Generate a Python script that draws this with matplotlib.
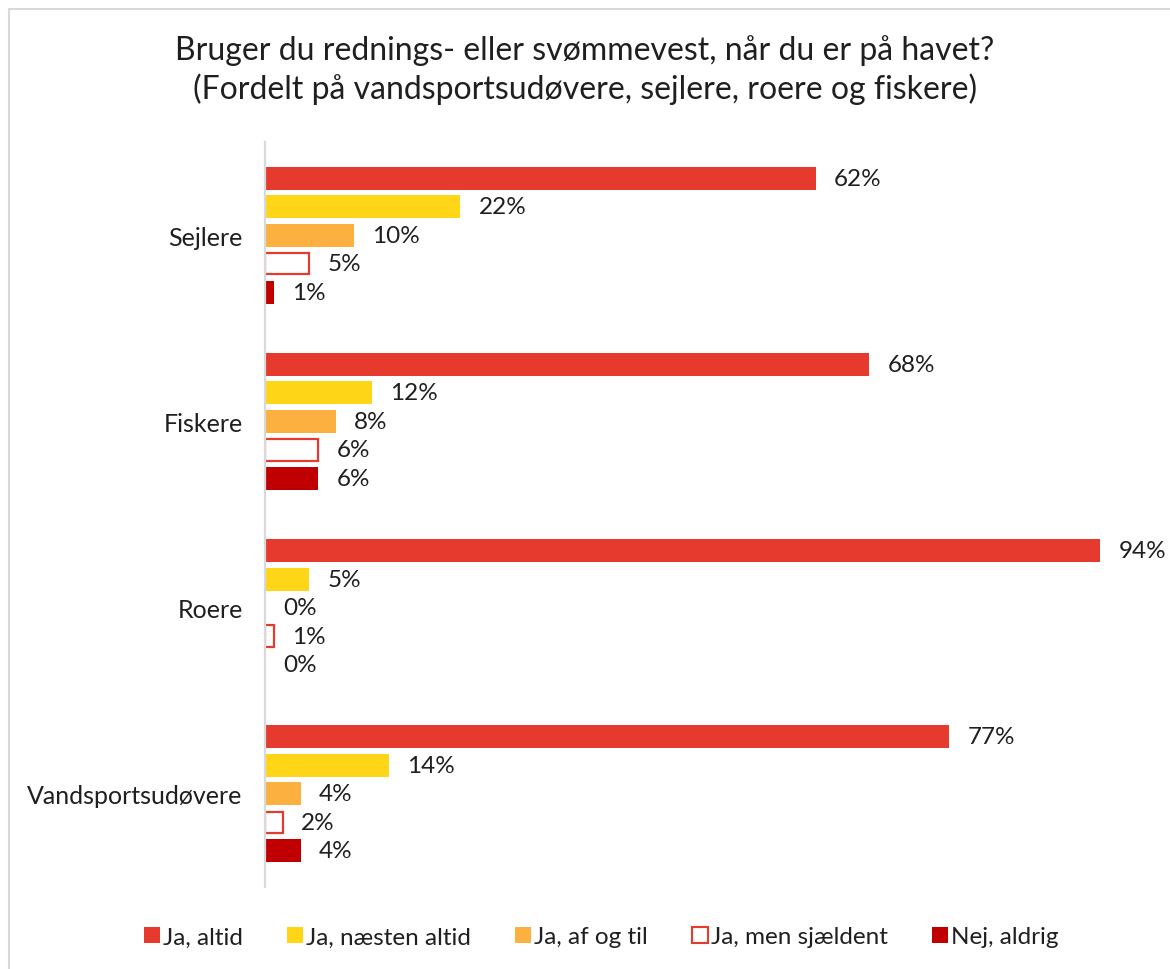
import matplotlib
matplotlib.use('Agg')
from matplotlib import pyplot as plt
from matplotlib.patches import Rectangle, Patch
import numpy as np

plt.rcParams['font.family'] = ['Lato', 'DejaVu Sans']

# data
categories = ['Sejlere', 'Fiskere', 'Roere', 'Vandsportsudøvere']
series_names = ['Ja, altid', 'Ja, næsten altid', 'Ja, af og til',
                'Ja, men sjældent', 'Nej, aldrig']
altid = [62, 68, 94, 77]
naesten_altid = [22, 12, 5, 14]
af_og_til = [10, 8, 0, 4]
sjaeldent = [5, 6, 1, 2]
aldrig = [1, 6, 0, 4]
values = [altid, naesten_altid, af_og_til, sjaeldent, aldrig]

title = ('Bruger du rednings- eller svømmevest, når du er på havet?\n'
         '(Fordelt på vandsportsudøvere, sejlere, roere og fiskere)')

red = '#E63A2E'
faces = [red, '#FFD517', '#FBB040', 'white', '#C00000']
edges = [red, '#FFD517', '#FBB040', red, '#C00000']
txt = '#1F1F1F'

fig = plt.figure(figsize=(11.7, 9.7), dpi=100)
ax = fig.add_axes([265 / 1170, 1 - 888 / 970, 1 - 265 / 1170 - 0.014, (888 - 143) / 970])

slot = 0.153
height = 0.124
y = np.arange(len(categories))
for j, vals in enumerate(values):
    pos = y + (j - 2) * slot
    lw = 1.6 if faces[j] == 'white' else 0
    ax.barh(pos, vals, height=height if lw == 0 else height - 0.008,
            color=faces[j], edgecolor=edges[j], linewidth=lw)
    for p, v in zip(pos, vals):
        ax.annotate('{}%'.format(v), (v, p), xytext=(13, 0),
                    textcoords='offset points', va='center', ha='left',
                    fontsize=17.5, color=txt)

ax.set_xlim(0, 100)
ax.set_ylim(len(categories) - 0.5, -0.5)
ax.set_yticks(y)
ax.set_yticklabels(categories, fontsize=18, color=txt)
ax.tick_params(axis='y', length=0, pad=16)
ax.set_xticks([])
for s in ['top', 'right', 'bottom']:
    ax.spines[s].set_visible(False)
ax.spines['left'].set_color('#D9D9D9')
ax.spines['left'].set_linewidth(1.6)

fig.text(0.5, 1 - 70 / 970, title, ha='center', va='center',
         fontsize=23, color=txt, linespacing=1.3)

# legend
handles = [Patch(facecolor=faces[j], edgecolor=edges[j],
                 linewidth=1.5 if faces[j] == 'white' else 0)
           for j in range(len(series_names))]
fig.legend(handles, series_names, loc='center', ncol=5, frameon=False,
           bbox_to_anchor=(0.514, 1 - 938 / 970), fontsize=17.5,
           handlelength=0.65, handleheight=0.65, handletextpad=0.15,
           columnspacing=1.8, labelcolor=txt)

# thin border of the chart area
fig.patches.append(Rectangle((9 / 1170, -0.05), 1.1, 1 - 10 / 970 + 0.05,
                             transform=fig.transFigure, fill=False,
                             edgecolor='#D9D9D9', linewidth=1.5))

fig.savefig('out.png', dpi=100)
